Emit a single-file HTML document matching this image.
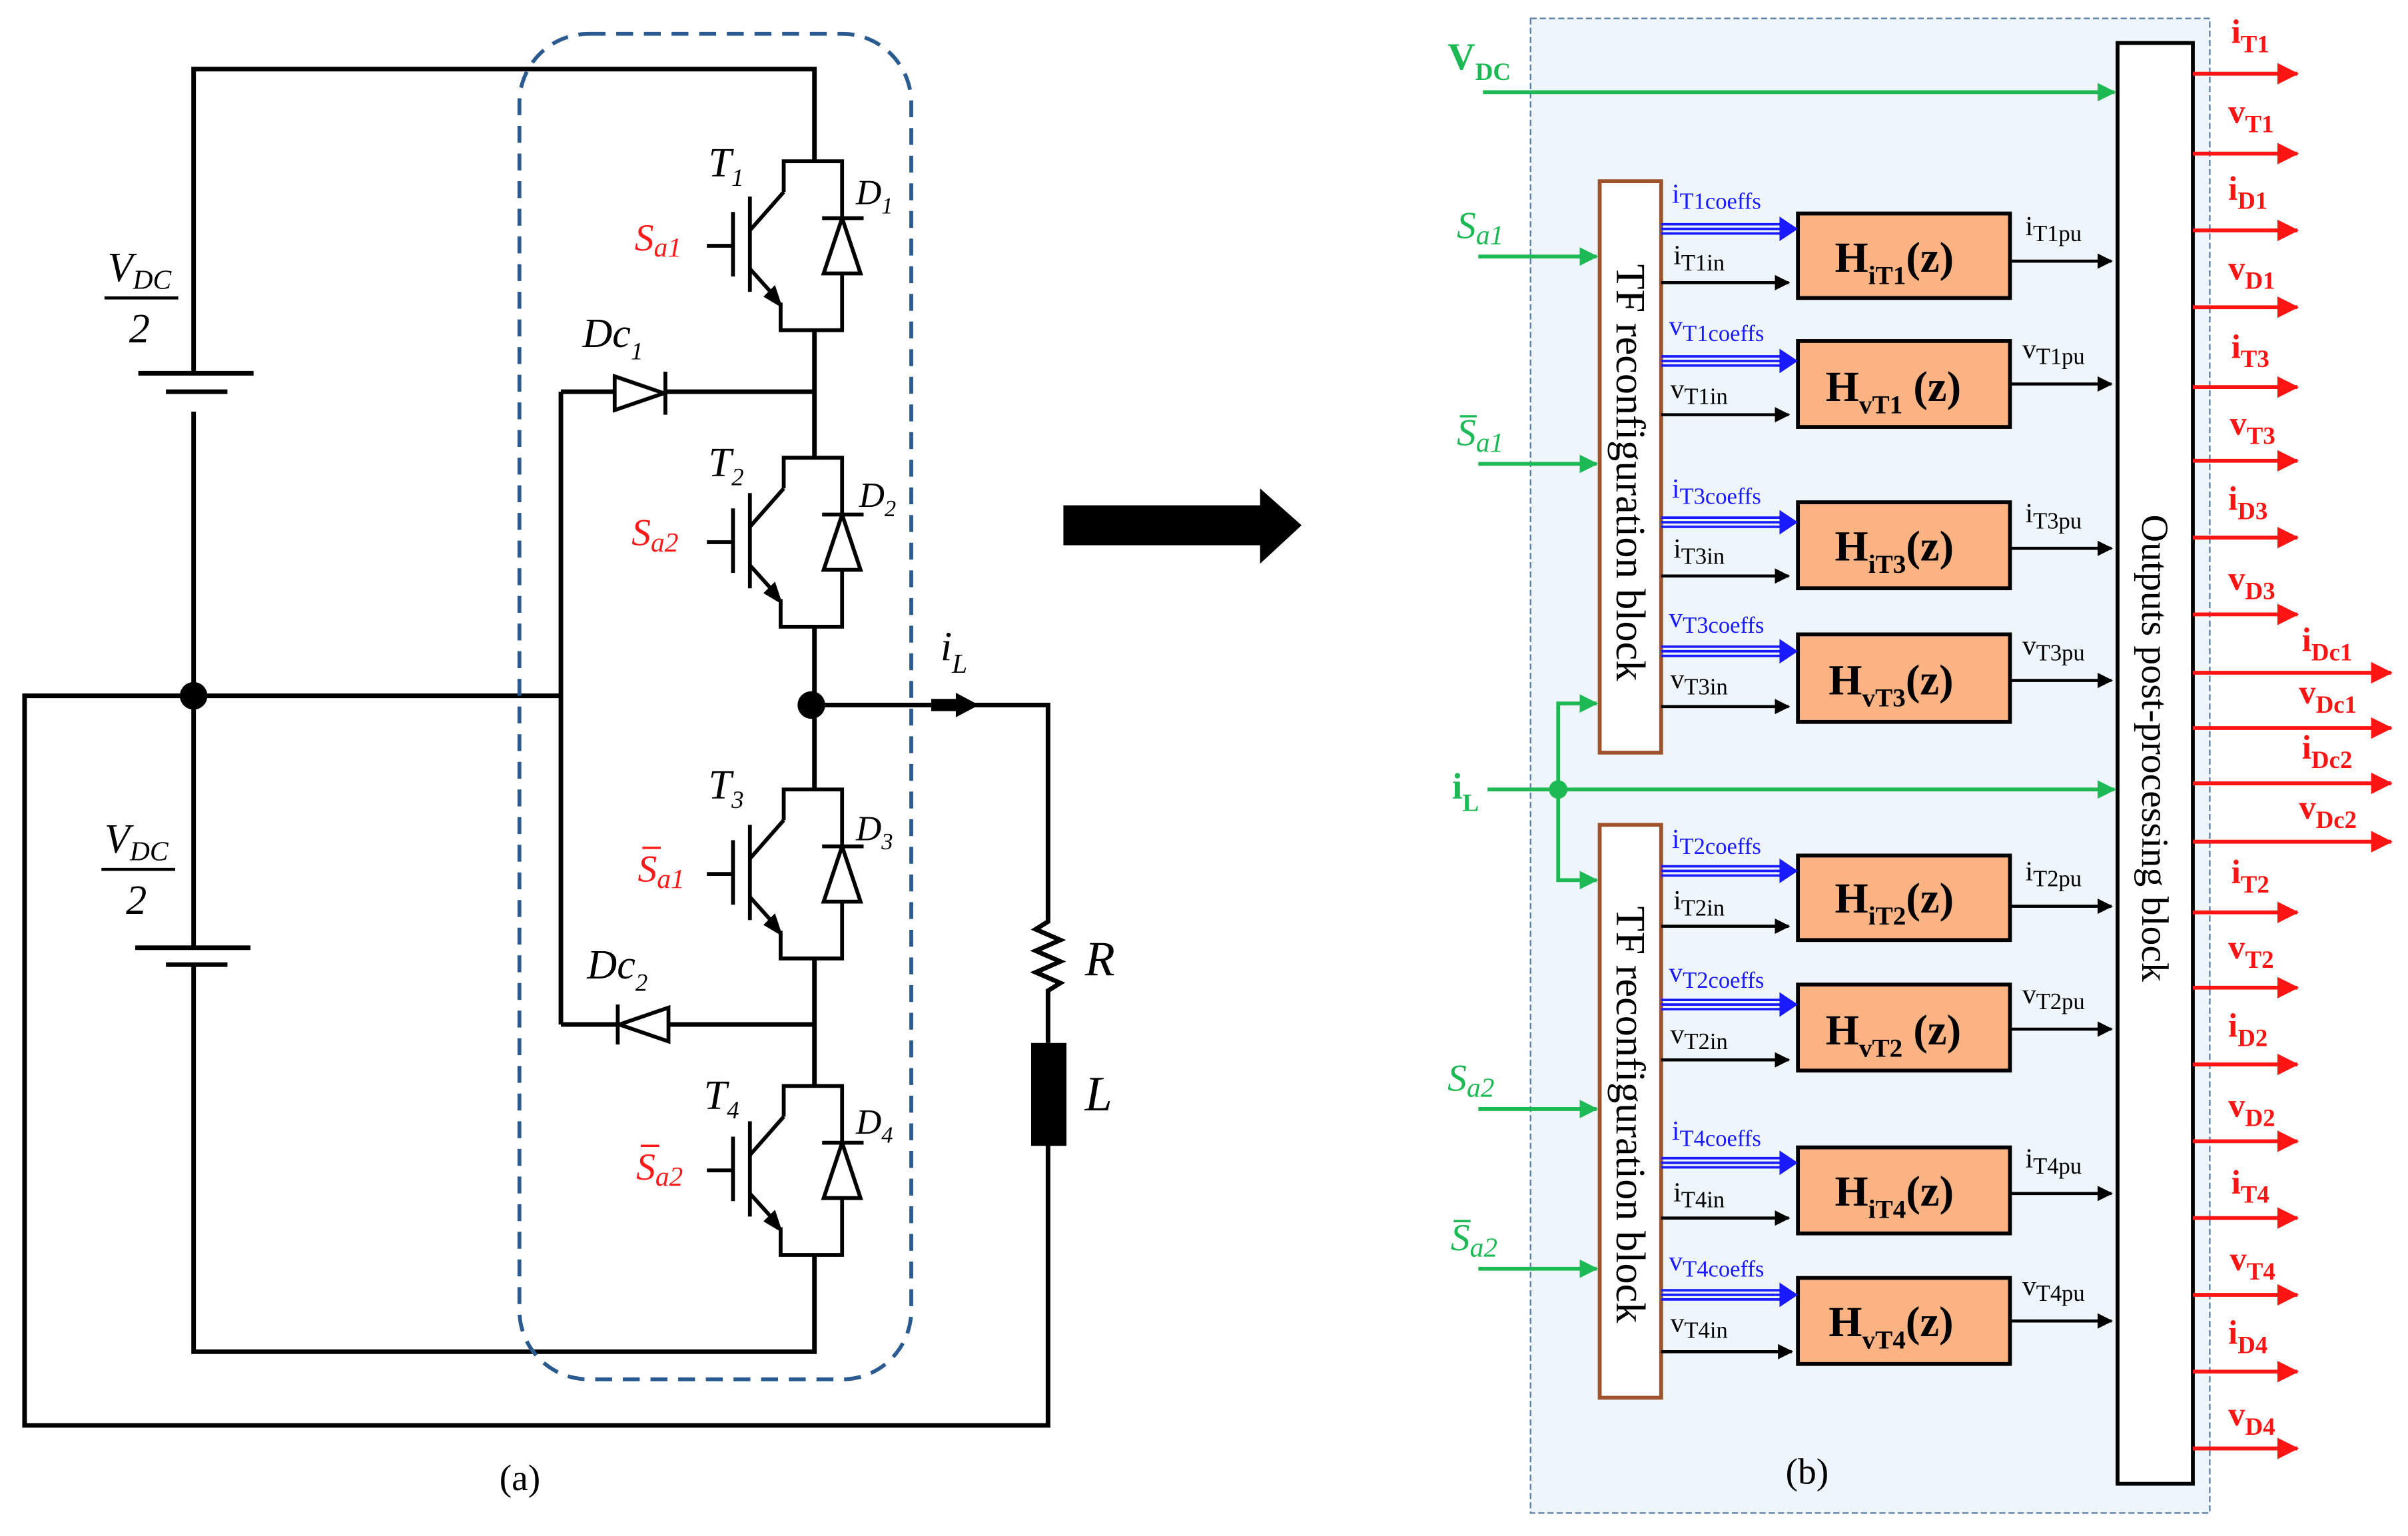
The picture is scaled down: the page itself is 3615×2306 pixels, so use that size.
<!DOCTYPE html>
<html><head><meta charset="utf-8"><style>
html,body{margin:0;padding:0;background:#fff}
svg{display:block}
text{font-family:"Liberation Serif",serif}
</style></head><body>
<svg width="3615" height="2306" viewBox="0 0 1567 1000" preserveAspectRatio="none" xmlns="http://www.w3.org/2000/svg">
<defs>
<marker id="ak" markerWidth="10" markerHeight="10" refX="9" refY="5" orient="auto" markerUnits="userSpaceOnUse"><path d="M0,0 L10,5 L0,10z" fill="#000"/></marker>
<marker id="ag" markerWidth="12" markerHeight="12" refX="11" refY="6" orient="auto" markerUnits="userSpaceOnUse"><path d="M0,0 L12,6 L0,12z" fill="#1db954"/></marker>
<marker id="ar" markerWidth="14" markerHeight="14" refX="13" refY="7" orient="auto" markerUnits="userSpaceOnUse"><path d="M0,0 L14,7 L0,14z" fill="#ff1414"/></marker>
<g id="tr" stroke="#000" stroke-width="2.5" fill="none">
<path d="M510,20 L510,0 L548,0 L548,37 M548,73 L548,110 L508,110 L508,92 M510,20 L488,45 M488,70 L506,90 M488,23 L488,85 M477,33 L477,75 M460,55 L477,55"/>
<path d="M498,88 L508,94 L504,82z" fill="#000" stroke-width="1.5"/>
<polygon points="548,37 536,73 560,73" fill="#fff"/>
<path d="M535,37 L562,37"/>
</g>
</defs>

<g stroke="#000" stroke-width="3" fill="none">
<path d="M126,243 L126,45 L530,45 L530,105"/>
<path d="M90,243 L165,243 M108,255 L148,255" />
<path d="M126,268 L126,617 M126,628 L126,880 L530,880 L530,817"/>
<path d="M88,617 L163,617 M108,628 L148,628"/>
<path d="M365,453 L16,453 L16,928 L682,928 L682,745"/>
<path d="M365,255 L365,667"/>
<path d="M365,255 L400,255 M432,255 L530,255"/>
<path d="M365,667 L402,667 M435,667 L530,667"/>
<path d="M530,215 L530,298 M530,408 L530,514 M530,625 L530,707"/>
<path d="M528,459 L682,459 L682,575"/>
<path d="M682,575 L682,600 L674,605 L690,612 L674,619 L690,626 L674,633 L690,640 L682,645 L682,679"/>
</g>
<g stroke="#000" stroke-width="2.5">
<polygon points="400,245 400,267 432,256" fill="#fff"/>
<path d="M433,242 L433,270"/>
<polygon points="435,656 435,678 403,667" fill="#fff"/>
<path d="M402,654 L402,680"/>
</g>
<rect x="671" y="679" width="23" height="67" fill="#000"/>
<path d="M606,455 L622,455 L622,451 L637,459 L622,467 L622,463 L606,463z" fill="#000"/>
<circle cx="126" cy="453" r="9" fill="#000"/>
<circle cx="528" cy="459" r="9" fill="#000"/>
<use href="#tr" transform="translate(0,105)"/>
<use href="#tr" transform="translate(0,298)"/>
<use href="#tr" transform="translate(0,514)"/>
<use href="#tr" transform="translate(0,707)"/>
<rect x="338" y="22" width="255" height="876" rx="45" fill="none" stroke="#2a5a8f" stroke-width="2.5" stroke-dasharray="11,7"/>

<g font-style="italic" font-size="27">
<text x="70" y="183">V<tspan font-size="18" dy="5">DC</tspan></text>
<path d="M68,194 L116,194" stroke="#000" stroke-width="2"/>
<text x="84" y="223">2</text>
<text x="68" y="555">V<tspan font-size="18" dy="5">DC</tspan></text>
<path d="M66,566 L114,566" stroke="#000" stroke-width="2"/>
<text x="82" y="595">2</text>
<text x="461" y="115">T<tspan font-size="16" dy="6">1</tspan></text>
<text x="461" y="310">T<tspan font-size="16" dy="6">2</tspan></text>
<text x="461" y="520">T<tspan font-size="16" dy="6">3</tspan></text>
<text x="458" y="722">T<tspan font-size="16" dy="6">4</tspan></text>
<text x="557" y="133" font-size="23">D<tspan font-size="15" dy="6">1</tspan></text>
<text x="559" y="330" font-size="23">D<tspan font-size="15" dy="6">2</tspan></text>
<text x="557" y="547" font-size="23">D<tspan font-size="15" dy="6">3</tspan></text>
<text x="557" y="738" font-size="23">D<tspan font-size="15" dy="6">4</tspan></text>
<text x="379" y="226">Dc<tspan font-size="16" dy="8">1</tspan></text>
<text x="382" y="637">Dc<tspan font-size="16" dy="8">2</tspan></text>
<text x="612" y="430">i<tspan font-size="18" dy="8">L</tspan></text>
<text x="706" y="635" font-size="32">R</text>
<text x="706" y="723" font-size="32">L</text>
<g fill="#ff1a1a" font-size="25">
<text x="413" y="163">S<tspan font-size="18" dy="4">a1</tspan></text>
<text x="411" y="355">S<tspan font-size="18" dy="4">a2</tspan></text>
<text x="415" y="574">S<tspan font-size="18" dy="4">a1</tspan></text>
<path d="M418,552 L430,552" stroke="#ff1a1a" stroke-width="1.5"/>
<text x="414" y="768">S<tspan font-size="18" dy="4">a2</tspan></text>
<path d="M417,746 L429,746" stroke="#ff1a1a" stroke-width="1.5"/>
</g>
</g>
<text x="325" y="970" font-size="24">(a)</text>

<path d="M692,329 L820,329 L820,318 L847,342 L820,367 L820,355 L692,355z" fill="#000"/>

<rect x="996" y="12" width="442" height="973" fill="#eef5fb" stroke="#5b7fa8" stroke-width="1" stroke-dasharray="4,2"/>
<rect x="1378" y="28" width="49" height="938" fill="#fff" stroke="#000" stroke-width="2.5"/>
<text transform="translate(1394,335) rotate(90)" font-size="25">Outputs post-processing block</text>
<rect x="1041" y="118" width="40" height="372" fill="#fff" stroke="#a0522d" stroke-width="2.5"/>
<rect x="1041" y="537" width="40" height="373" fill="#fff" stroke="#a0522d" stroke-width="2.5"/>
<text transform="translate(1052,172) rotate(90)" font-size="27">TF reconfiguration block</text>
<text transform="translate(1052,590) rotate(90)" font-size="27">TF reconfiguration block</text>

<g stroke="#1db954" stroke-width="2.5" fill="none">
<path d="M965,60 L1376,60" marker-end="url(#ag)"/>
<path d="M962,167 L1039,167" marker-end="url(#ag)"/>
<path d="M962,302 L1039,302" marker-end="url(#ag)"/>
<path d="M962,722 L1039,722" marker-end="url(#ag)"/>
<path d="M962,826 L1039,826" marker-end="url(#ag)"/>
<path d="M968,514 L1376,514" marker-end="url(#ag)"/>
<path d="M1014,514 L1014,458 L1039,458" marker-end="url(#ag)"/>
<path d="M1014,514 L1014,573 L1039,573" marker-end="url(#ag)"/>
</g>
<circle cx="1014" cy="514" r="6" fill="#1db954"/>
<g fill="#1db954" font-weight="bold">
<text x="942" y="45" font-size="25">V<tspan font-size="16" dy="7">DC</tspan></text>
<text x="945" y="520" font-size="24">i<tspan font-size="16" dy="8">L</tspan></text>
</g>
<g fill="#1db954" font-size="25" font-style="italic">
<text x="948" y="155">S<tspan font-size="18" dy="4">a1</tspan></text>
<text x="948" y="290">S<tspan font-size="18" dy="4">a1</tspan></text>
<path d="M950,271 L961,271" stroke="#1db954" stroke-width="1.5"/>
<text x="942" y="710">S<tspan font-size="18" dy="4">a2</tspan></text>
<text x="944" y="814">S<tspan font-size="18" dy="4">a2</tspan></text>
<path d="M946,795 L957,795" stroke="#1db954" stroke-width="1.5"/>
</g>

<g stroke="#000" stroke-width="2.5" fill="#fbb383">
<rect x="1170" y="139" width="138" height="55"/>
<rect x="1170" y="222" width="138" height="56"/>
<rect x="1170" y="327" width="138" height="56"/>
<rect x="1170" y="413" width="138" height="57"/>
<rect x="1170" y="557" width="138" height="55"/>
<rect x="1170" y="641" width="138" height="56"/>
<rect x="1170" y="747" width="138" height="56"/>
<rect x="1170" y="832" width="138" height="56"/>
</g>
<g font-size="28" font-weight="bold">
<text x="1194" y="177">H<tspan font-size="17" dy="8">iT1</tspan><tspan dy="-8">(z)</tspan></text>
<text x="1188" y="261">H<tspan font-size="17" dy="8">vT1</tspan><tspan dy="-8"> (z)</tspan></text>
<text x="1194" y="365">H<tspan font-size="17" dy="8">iT3</tspan><tspan dy="-8">(z)</tspan></text>
<text x="1190" y="452">H<tspan font-size="17" dy="8">vT3</tspan><tspan dy="-8">(z)</tspan></text>
<text x="1194" y="594">H<tspan font-size="17" dy="8">iT2</tspan><tspan dy="-8">(z)</tspan></text>
<text x="1188" y="680">H<tspan font-size="17" dy="8">vT2</tspan><tspan dy="-8"> (z)</tspan></text>
<text x="1194" y="785">H<tspan font-size="17" dy="8">iT4</tspan><tspan dy="-8">(z)</tspan></text>
<text x="1190" y="870">H<tspan font-size="17" dy="8">vT4</tspan><tspan dy="-8">(z)</tspan></text>
</g>

<g fill="none">
<g stroke="#1a1aff" stroke-width="1.6">
<path d="M1081,146 L1160,146 M1081,149 L1160,149 M1081,152 L1160,152"/>
<path d="M1081,232 L1160,232 M1081,235 L1160,235 M1081,238 L1160,238"/>
<path d="M1081,337 L1160,337 M1081,340 L1160,340 M1081,343 L1160,343"/>
<path d="M1081,421 L1160,421 M1081,424 L1160,424 M1081,427 L1160,427"/>
<path d="M1081,564 L1160,564 M1081,567 L1160,567 M1081,570 L1160,570"/>
<path d="M1081,651 L1160,651 M1081,654 L1160,654 M1081,657 L1160,657"/>
<path d="M1081,754 L1160,754 M1081,757 L1160,757 M1081,760 L1160,760"/>
<path d="M1081,840 L1160,840 M1081,843 L1160,843 M1081,846 L1160,846"/>
</g>
<g stroke="#000" stroke-width="2">
<path d="M1081,184 L1164,184" marker-end="url(#ak)"/>
<path d="M1081,270 L1164,270" marker-end="url(#ak)"/>
<path d="M1081,375 L1164,375" marker-end="url(#ak)"/>
<path d="M1081,460 L1164,460" marker-end="url(#ak)"/>
<path d="M1081,603 L1164,603" marker-end="url(#ak)"/>
<path d="M1081,690 L1164,690" marker-end="url(#ak)"/>
<path d="M1081,793 L1164,793" marker-end="url(#ak)"/>
<path d="M1081,880 L1166,880" marker-end="url(#ak)"/>
<path d="M1308,170 L1374,170" marker-end="url(#ak)"/>
<path d="M1308,250 L1374,250" marker-end="url(#ak)"/>
<path d="M1308,357 L1374,357" marker-end="url(#ak)"/>
<path d="M1308,443 L1374,443" marker-end="url(#ak)"/>
<path d="M1308,590 L1374,590" marker-end="url(#ak)"/>
<path d="M1308,670 L1374,670" marker-end="url(#ak)"/>
<path d="M1308,777 L1374,777" marker-end="url(#ak)"/>
<path d="M1308,860 L1374,860" marker-end="url(#ak)"/>
</g>
</g>
<g fill="#1a1aff" stroke="none">
<path d="M1158,141 L1170,149 L1158,157z M1158,227 L1170,235 L1158,243z M1158,332 L1170,340 L1158,348z M1158,416 L1170,424 L1158,432z M1158,559 L1170,567 L1158,575z M1158,646 L1170,654 L1158,662z M1158,749 L1170,757 L1158,765z M1158,835 L1170,843 L1158,851z"/>
</g>
<g font-size="18" fill="#1a1aff">
<text x="1088" y="132">i<tspan font-size="15" dy="4">T1coeffs</tspan></text>
<text x="1086" y="218">v<tspan font-size="15" dy="4">T1coeffs</tspan></text>
<text x="1088" y="324">i<tspan font-size="15" dy="4">T3coeffs</tspan></text>
<text x="1086" y="408">v<tspan font-size="15" dy="4">T3coeffs</tspan></text>
<text x="1088" y="552">i<tspan font-size="15" dy="4">T2coeffs</tspan></text>
<text x="1086" y="639">v<tspan font-size="15" dy="4">T2coeffs</tspan></text>
<text x="1088" y="742">i<tspan font-size="15" dy="4">T4coeffs</tspan></text>
<text x="1086" y="827">v<tspan font-size="15" dy="4">T4coeffs</tspan></text>
</g>
<g font-size="18" fill="#000">
<text x="1089" y="172">i<tspan font-size="15" dy="4">T1in</tspan></text>
<text x="1087" y="259">v<tspan font-size="15" dy="4">T1in</tspan></text>
<text x="1089" y="363">i<tspan font-size="15" dy="4">T3in</tspan></text>
<text x="1087" y="448">v<tspan font-size="15" dy="4">T3in</tspan></text>
<text x="1089" y="592">i<tspan font-size="15" dy="4">T2in</tspan></text>
<text x="1087" y="679">v<tspan font-size="15" dy="4">T2in</tspan></text>
<text x="1089" y="782">i<tspan font-size="15" dy="4">T4in</tspan></text>
<text x="1087" y="867">v<tspan font-size="15" dy="4">T4in</tspan></text>
<text x="1318" y="153">i<tspan font-size="15" dy="4">T1pu</tspan></text>
<text x="1316" y="233">v<tspan font-size="15" dy="4">T1pu</tspan></text>
<text x="1318" y="340">i<tspan font-size="15" dy="4">T3pu</tspan></text>
<text x="1316" y="426">v<tspan font-size="15" dy="4">T3pu</tspan></text>
<text x="1318" y="573">i<tspan font-size="15" dy="4">T2pu</tspan></text>
<text x="1316" y="653">v<tspan font-size="15" dy="4">T2pu</tspan></text>
<text x="1318" y="760">i<tspan font-size="15" dy="4">T4pu</tspan></text>
<text x="1316" y="843">v<tspan font-size="15" dy="4">T4pu</tspan></text>
</g>

<g stroke="#ff1414" stroke-width="2.5" fill="none">
<path d="M1427,48 L1495,48" marker-end="url(#ar)"/>
<path d="M1427,100 L1495,100" marker-end="url(#ar)"/>
<path d="M1427,150 L1495,150" marker-end="url(#ar)"/>
<path d="M1427,200 L1495,200" marker-end="url(#ar)"/>
<path d="M1427,252 L1495,252" marker-end="url(#ar)"/>
<path d="M1427,300 L1495,300" marker-end="url(#ar)"/>
<path d="M1427,350 L1495,350" marker-end="url(#ar)"/>
<path d="M1427,400 L1495,400" marker-end="url(#ar)"/>
<path d="M1427,438 L1556,438" marker-end="url(#ar)"/>
<path d="M1427,474 L1556,474" marker-end="url(#ar)"/>
<path d="M1427,510 L1556,510" marker-end="url(#ar)"/>
<path d="M1427,548 L1556,548" marker-end="url(#ar)"/>
<path d="M1427,594 L1495,594" marker-end="url(#ar)"/>
<path d="M1427,643 L1495,643" marker-end="url(#ar)"/>
<path d="M1427,693 L1495,693" marker-end="url(#ar)"/>
<path d="M1427,743 L1495,743" marker-end="url(#ar)"/>
<path d="M1427,793 L1495,793" marker-end="url(#ar)"/>
<path d="M1427,843 L1495,843" marker-end="url(#ar)"/>
<path d="M1427,893 L1495,893" marker-end="url(#ar)"/>
<path d="M1427,943 L1495,943" marker-end="url(#ar)"/>
</g>
<g fill="#ff1414" font-size="22" font-weight="bold">
<text x="1452" y="28">i<tspan font-size="16" dy="6">T1</tspan></text>
<text x="1450" y="80">v<tspan font-size="16" dy="6">T1</tspan></text>
<text x="1450" y="130">i<tspan font-size="16" dy="6">D1</tspan></text>
<text x="1450" y="182">v<tspan font-size="16" dy="6">D1</tspan></text>
<text x="1452" y="233">i<tspan font-size="16" dy="6">T3</tspan></text>
<text x="1451" y="283">v<tspan font-size="16" dy="6">T3</tspan></text>
<text x="1450" y="332">i<tspan font-size="16" dy="6">D3</tspan></text>
<text x="1450" y="384">v<tspan font-size="16" dy="6">D3</tspan></text>
<text x="1498" y="424">i<tspan font-size="16" dy="6">Dc1</tspan></text>
<text x="1496" y="458">v<tspan font-size="16" dy="6">Dc1</tspan></text>
<text x="1498" y="494">i<tspan font-size="16" dy="6">Dc2</tspan></text>
<text x="1496" y="533">v<tspan font-size="16" dy="6">Dc2</tspan></text>
<text x="1452" y="575">i<tspan font-size="16" dy="6">T2</tspan></text>
<text x="1450" y="624">v<tspan font-size="16" dy="6">T2</tspan></text>
<text x="1450" y="675">i<tspan font-size="16" dy="6">D2</tspan></text>
<text x="1450" y="727">v<tspan font-size="16" dy="6">D2</tspan></text>
<text x="1452" y="777">i<tspan font-size="16" dy="6">T4</tspan></text>
<text x="1451" y="827">v<tspan font-size="16" dy="6">T4</tspan></text>
<text x="1450" y="875">i<tspan font-size="16" dy="6">D4</tspan></text>
<text x="1450" y="928">v<tspan font-size="16" dy="6">D4</tspan></text>
</g>
<text x="1162" y="966" font-size="24">(b)</text>
</svg>
</body></html>
